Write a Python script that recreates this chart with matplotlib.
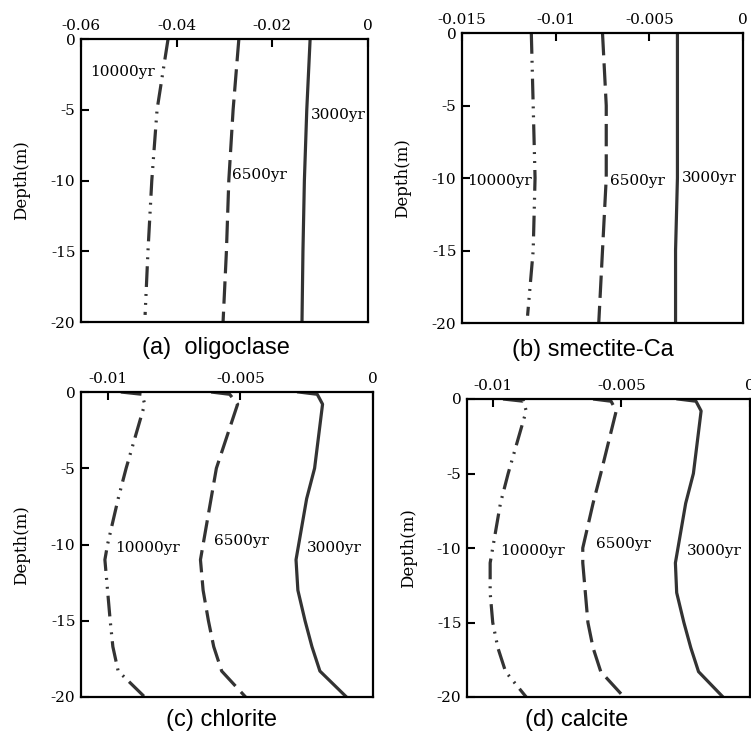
import matplotlib
matplotlib.use("Agg")
import matplotlib.pyplot as plt

plt.rcParams["axes.unicode_minus"] = False
plt.rcParams["font.family"] = "DejaVu Serif"

# --- data ---
depth_a = [0, -5, -10, -15, -20]
depth_a_10000 = [0, -5, -10, -15, -19.5]
a_3000 = [-0.0121, -0.0128, -0.0133, -0.0136, -0.0138]
a_6500 = [-0.0270, -0.0282, -0.0291, -0.0296, -0.0303]
a_10000 = [-0.0418, -0.0441, -0.0452, -0.0460, -0.0466]

depth_b = [0, -5, -10, -15, -20]
depth_b_10000 = [0, -5, -10, -15, -19.5]
b_3000 = [-0.0035, -0.0035, -0.0035, -0.0036, -0.0036]
b_6500 = [-0.0075, -0.0073, -0.0073, -0.0075, -0.0077]
b_10000 = [-0.0113, -0.0112, -0.0111, -0.0112, -0.0115]

depth_cd = [0, -0.15, -0.8, -5, -7, -10, -11, -13, -15, -16.7, -18.3, -20]
c_3000 = [-0.0028, -0.0021, -0.0019, -0.0022, -0.0025, -0.0028, -0.0029,
          -0.00283, -0.00256, -0.0023, -0.0020, -0.0010]
c_6500 = [-0.0061, -0.0054, -0.0051, -0.0059, -0.0061, -0.0064, -0.0065,
          -0.0064, -0.0062, -0.0060, -0.0057, -0.0048]
c_10000 = [-0.0095, -0.0087, -0.0086, -0.0093, -0.0096, -0.0100, -0.0101,
           -0.0100, -0.0099, -0.0098, -0.0096, -0.0086]
d_3000 = [-0.0028, -0.0021, -0.0019, -0.0022, -0.0025, -0.0028, -0.0029,
          -0.00285, -0.00257, -0.0023, -0.0020, -0.00105]
d_6500 = [-0.0061, -0.0054, -0.0052, -0.0058, -0.0061, -0.0065, -0.0065,
          -0.0064, -0.0063, -0.0061, -0.0058, -0.0049]
d_10000 = [-0.0096, -0.0088, -0.0087, -0.0094, -0.0097, -0.0100, -0.0101,
           -0.0101, -0.0100, -0.0098, -0.0095, -0.0087]

xt_a = [-0.06, -0.04, -0.02, 0]
xl_a = ["-0.06", "-0.04", "-0.02", "0"]
xt_b = [-0.015, -0.01, -0.005, 0]
xl_b = ["-0.015", "-0.01", "-0.005", "0"]
xt_cd = [-0.01, -0.005, 0]
xl_cd = ["-0.01", "-0.005", "0"]
yt = [0, -5, -10, -15, -20]
yl = ["0", "-5", "-10", "-15", "-20"]

titles = ["(a)  oligoclase", "(b) smectite-Ca", "(c) chlorite", "(d) calcite"]
ages = ["3000yr", "6500yr", "10000yr"]

W, H = 751, 733
fig = plt.figure(figsize=(W / 100, H / 100), dpi=100)


def px_axes(l, t, r, b):
    return fig.add_axes([l / W, 1 - b / H, (r - l) / W, (b - t) / H])


LW = 2.3
COL = "0.2"
dash_6500 = (0, (7, 2.5))
dash_10000 = (0, (6.5, 2.2, 0.6, 2.2, 0.6, 2.2))


def panel(ax, xlim, xt, xl, curves, labels):
    d3, x3, d6, x6, d10, x10 = curves
    ax.plot(x3, d3, color=COL, lw=LW, ls="-")
    ax.plot(x6, d6, color=COL, lw=LW, ls=dash_6500)
    ax.plot(x10, d10, color=COL, lw=LW, ls=dash_10000)
    ax.set_xlim(*xlim)
    ax.set_ylim(-20, 0)
    ax.xaxis.tick_top()
    ax.set_xticks(xt)
    ax.set_xticklabels(xl)
    ax.set_yticks(yt)
    ax.set_yticklabels(yl)
    ax.tick_params(direction="in", length=6, width=1.5, labelsize=11, pad=4,
                   top=True, bottom=False, right=False, left=True)
    for s in ax.spines.values():
        s.set_linewidth(1.6)
    for txt, (x, y) in zip(ages, labels):
        ax.text(x, y, txt, fontsize=11, ha="left", va="center")


ax_a = px_axes(81, 39, 368, 322)
panel(ax_a, (-0.06, 0), xt_a, xl_a,
      (depth_a, a_3000, depth_a, a_6500, depth_a_10000, a_10000),
      [(-0.0119, -5.4), (-0.0284, -9.6), (-0.0581, -2.3)])

ax_b = px_axes(462, 33, 743, 323)
panel(ax_b, (-0.015, 0), xt_b, xl_b,
      (depth_b, b_3000, depth_b, b_6500, depth_b_10000, b_10000),
      [(-0.00326, -10.0), (-0.0071, -10.2), (-0.0147, -10.2)])

ax_c = px_axes(81, 392, 373, 697)
panel(ax_c, (-0.011, 0), xt_cd, xl_cd,
      (depth_cd, c_3000, depth_cd, c_6500, depth_cd, c_10000),
      [(-0.0025, -10.2), (-0.0060, -9.8), (-0.0097, -10.2)])

ax_d = px_axes(467, 399, 750, 697)
panel(ax_d, (-0.011, 0), xt_cd, xl_cd,
      (depth_cd, d_3000, depth_cd, d_6500, depth_cd, d_10000),
      [(-0.00245, -10.2), (-0.0060, -9.7), (-0.0097, -10.2)])

# y labels
for x, y in [(22, 180), (403, 178), (22, 545), (409, 548)]:
    fig.text(x / W, 1 - y / H, "Depth(m)", rotation=90, fontsize=12,
             ha="center", va="center")

# panel captions
for t, (x, y) in zip(titles, [(216, 348), (593, 350), (222, 720), (577, 720)]):
    fig.text(x / W, 1 - y / H, t, fontsize=17, family="Liberation Sans",
             ha="center", va="center")

fig.savefig("out.png", dpi=100)
